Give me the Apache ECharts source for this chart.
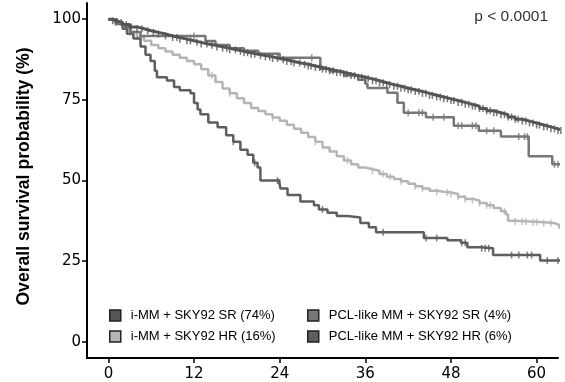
<!DOCTYPE html>
<html><head><meta charset="utf-8">
<script src="https://cdn.jsdelivr.net/npm/echarts@6/dist/echarts.min.js"></script>
<style>html,body{margin:0;padding:0;background:#fff}#c{width:565px;height:382px}</style>
</head><body><div id="c"></div>
<script>
const seriesNames = ['i-MM + SKY92 SR (74%)', 'i-MM + SKY92 HR (16%)', 'PCL-like MM + SKY92 SR (4%)', 'PCL-like MM + SKY92 HR (6%)'];
const xTicks = [0, 12, 24, 36, 48, 60];
const yTicks = [0, 25, 50, 75, 100];

const imSR = [[0,100],[0.5,99.5],[1,99],[2,98.3],[3,97.6],[4,97],[5,96.4],[6,95.9],[7,95.4],[8,94.8],[9,94.3],[10,93.8],[11,93.3],[12,92.8],[13,92.3],[14,91.9],[15,91.4],[16,91],[17,90.5],[18,90],[19,89.6],[20,89.1],[21,88.7],[22,88.3],[23,87.8],[24,87.4],[25,86.9],[26,86.4],[27,86],[28,85.5],[29,85],[30,84.5],[31,84],[32,83.5],[33,83],[34,82.5],[35,82],[36,81.5],[37,80.9],[38,80.3],[39,79.7],[40,79.2],[41,78.6],[42,78.1],[43,77.6],[44,77],[45,76.4],[46,75.9],[47,75.3],[48,74.8],[49,74.2],[50,73.6],[51,73],[52,72.3],[53,71.6],[54,71],[55,70.4],[56,69.7],[57,69],[58,68.4],[59,67.8],[60,67.2],[61,66.6],[62,66],[63,65.5],[63.7,65.5]];
const imHR = [[0,100],[1,98.8],[2,97.5],[3,96],[4,94.5],[5,93.3],[6,92],[7,91],[8,90],[9,89],[10,88],[11,87],[12,86],[13,84.5],[14,82.5],[15,80.5],[16,78.5],[17,77],[18,75.5],[19,74],[20,72.5],[21,71.5],[22,70.5],[23,69.5],[24,68.5],[25,67.3],[26,66],[27,64.8],[28,63.5],[29,62],[30,60.2],[31,59],[32,57.5],[33,56.2],[34,55],[35,54],[36,53.5],[37,53],[38,52],[39,51.2],[40,50.5],[41,49.8],[42,49],[43,48.2],[44,47.5],[45,46.8],[46,46.5],[47,46.3],[48,45.8],[49,45],[50,44.3],[51,43.8],[52,43],[53,42.3],[54,41.5],[55,40.5],[55.7,39.5],[56,37.5],[57,37.3],[59,37.1],[61,36.8],[62.5,36.2],[63.2,35.3],[63.7,35.3]];
const pclSR = [[0,100],[1,98.8],[2,97.5],[3,96],[4.5,94.8],[13.6,93.2],[15,92],[17,91],[19,90.2],[21,89.3],[24,88],[29.7,84.6],[31,83.8],[33,82.5],[35,81.2],[36,80],[36.3,78.7],[39.1,77.2],[40.5,74.1],[41.4,71],[44.5,69.6],[48.4,67],[51.9,65.4],[55,63.6],[58.9,57.5],[62.2,55],[63.7,55]];
const pclHR = [[0,100],[1.2,98.5],[2,97],[2.6,95.5],[3.5,94],[4.5,91.5],[5.2,89],[5.9,87],[6.5,84],[6.8,82],[8.2,81],[9.2,79],[10,78],[11.5,77],[12,74],[12.5,72],[12.9,70.5],[14,68],[15.3,66.5],[16.5,64],[17.5,62],[18.5,59.5],[19.5,58],[20.3,55.5],[20.9,54],[21.3,50],[23.9,49.4],[24.1,47.5],[25.1,45.5],[26.9,43.5],[28.8,42.3],[29.5,41],[30.7,40],[32,39],[33.5,38.5],[35.3,36.8],[36.5,35.5],[37.5,34],[44.2,32.2],[47.5,31.5],[49.4,30.7],[50.3,29.3],[52.2,29],[53.9,26.9],[60.5,25.2],[63.7,25.2]];

const imSRCens = [0.6,1,1.8,2.5,3.2,4,4.7,5.5,6.3,7,8,9,9.6,10,11,11.5,12.4,13,13.8,14.5,15.2,16,16.6,17,17.8,18.5,19,19.5,20,20.5,21.3,22,22.6,23,23.7,24.5,25,25.6,26,26.8,27.5,28,28.4,29,29.6,30,30.5,31,31.5,32,32.5,33,33.4,34,34.5,35,35.5,36,36.4,37,37.5,38,38.5,39,39.4,40,40.5,41,41.5,42,42.4,43,43.5,44,44.5,45,45.4,46,46.5,47,47.5,48,48.4,49,49.5,50,50.5,51,51.4,52,52.5,53,53.5,54,54.4,55,55.5,56,56.5,57,57.4,58,58.5,59,59.5,60,60.4,61,61.5,62,62.5,63,63.4];
const imHRCens = [4.5,14.5,17,23,29,33.5,37,38.5,39.5,41,43,44,46,47.5,48,49,50,51,52,53,53.5,55.5,57,58,58.5,59.5,60,61,62];
const pclSRCens = [3,12,28.5,42,43.5,44,45.5,47,49,49.5,51,51.5,53,54,57.5,58.3,58.7,62.5,63];
const pclHRCens = [17.5,20.5,23.7,24,30,38.5,44.5,46,49.5,50,52.3,52.8,53.3,56.5,57.5,58.7,59.3,61.5,63];

const colors = ['#555555', '#b5b5b5', '#777777', '#5e5e5e'];
const lineWidths = [3, 2.5, 2.5, 2.5];
const FONT = 'Liberation Sans, Arial, Helvetica, sans-serif';
const TICKFONT = 'DejaVu Sans, Verdana, sans-serif';

function stepValue(curve, t) {
  let v = curve[0][1];
  for (const p of curve) { if (p[0] <= t) v = p[1]; else break; }
  return v;
}
function censorPoints(curve, times) { return times.map(t => [t, stepValue(curve, t)]); }

const curves = [imSR, imHR, pclSR, pclHR];
const cens = [imSRCens, imHRCens, pclSRCens, pclHRCens];
const drawOrder = [1, 3, 2, 0];

const series = [];
drawOrder.forEach((i, k) => {
  series.push({
    name: seriesNames[i], type: 'line', step: 'end', data: curves[i],
    showSymbol: false, clip: false, z: 2 + k,
    lineStyle: { color: colors[i], width: lineWidths[i] },
    itemStyle: { color: colors[i] },
    emphasis: { disabled: true }
  });
  series.push({
    name: seriesNames[i] + ' censored', type: 'scatter', data: censorPoints(curves[i], cens[i]),
    symbol: 'rect', symbolSize: [1.5, 7], clip: false, z: 2 + k,
    itemStyle: { color: colors[i] }, emphasis: { disabled: true }
  });
});

const legendCommon = {
  orient: 'vertical', icon: 'rect', itemWidth: 11, itemHeight: 11, itemGap: 8,
  textStyle: { fontSize: 13, color: '#000', fontFamily: FONT, padding: [0, 0, 0, 5] },
  itemStyle: { borderColor: '#222', borderWidth: 1.5 },
  selectedMode: false
};

const chart = echarts.init(document.getElementById('c'));
chart.setOption({
  animation: false,
  backgroundColor: '#fff',
  grid: { left: 87, right: 7, top: 3, bottom: 24 },
  xAxis: {
    type: 'value', min: -3, max: 63,
    axisLine: { show: true, onZero: false, lineStyle: { color: '#000', width: 2 } },
    axisTick: { show: true, customValues: xTicks, length: 5, lineStyle: { color: '#000', width: 1.5 } },
    axisLabel: { customValues: xTicks, fontSize: 15, color: '#000', fontFamily: TICKFONT, margin: 9 },
    splitLine: { show: false }
  },
  yAxis: {
    type: 'value', min: -5, max: 105,
    name: 'Overall survival probability (%)', nameLocation: 'middle', nameGap: 54,
    nameTextStyle: { fontSize: 17.6, fontWeight: 'bold', color: '#000', fontFamily: FONT, padding: [0, 0, 0, 8] },
    axisLine: { show: true, onZero: false, lineStyle: { color: '#000', width: 2 } },
    axisTick: { show: true, customValues: yTicks, length: 5, lineStyle: { color: '#000', width: 1.5 } },
    axisLabel: { customValues: yTicks, fontSize: 15, color: '#000', fontFamily: TICKFONT, margin: 6 },
    splitLine: { show: false }
  },
  legend: [
    Object.assign({ left: 104, top: 304, data: [seriesNames[0], seriesNames[1]] }, legendCommon),
    Object.assign({ left: 302, top: 304, data: [seriesNames[2], seriesNames[3]] }, legendCommon)
  ],
  graphic: [{
    type: 'text', right: 17, top: 9,
    style: { text: 'p < 0.0001', fontSize: 15.5, fill: '#333', fontFamily: FONT }
  }],
  series: series
});
</script>
</body></html>
